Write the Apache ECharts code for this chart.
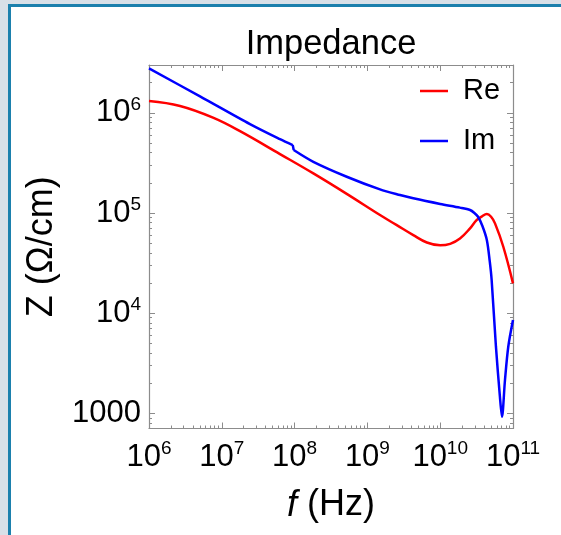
<!DOCTYPE html>
<html>
<head>
<meta charset="utf-8">
<script src="https://cdn.jsdelivr.net/npm/echarts@6/dist/echarts.min.js"></script>
<style>
html,body{margin:0;padding:0;background:#fff;}
#chart{width:561px;height:535px;}
</style>
</head>
<body>
<div id="chart"></div>
<script>
// ---- data ----
var reFreq = [1e6, 2.67e6, 7.57e6, 1.78e7, 6.3e7, 1.81e8, 5.2e8, 1.49e9, 2.5e9, 4.27e9, 6.56e9, 1e10, 1.37e10, 1.87e10, 2.57e10, 3.16e10, 3.72e10, 4.37e10, 5.0e10, 5.66e10, 7.36e10, 1e11];
var reZ    = [1.31e6, 1.17e6, 8.95e5, 6.56e5, 3.87e5, 2.48e5, 1.55e5, 9.53e4, 7.6e4, 6.01e4, 5.07e4, 4.75e4, 4.92e4, 5.56e4, 7.02e4, 8.49e4, 9.2e4, 9.75e4, 9.16e4, 7.87e4, 4.60e4, 1.98e4];
// Im is drawn in three pieces: up to the small step near 1e8, the step itself, and the rest
var imFreqA = [1e6, 5.02e6, 2.44e7, 6.3e7, 9.42e7];
var imZA    = [2.77e6, 1.46e6, 7.71e5, 5.45e5, 4.76e5];
var imFreqB = [9.72e7, 1.81e8, 5.2e8, 1.49e9, 2.81e9, 4.27e9, 1e10, 1.87e10, 2.57e10, 2.95e10, 3.31e10, 3.8e10, 4.37e10, 4.79e10, 5.09e10, 5.83e10, 6.61e10, 7.06e10, 7.76e10, 8.61e10, 1e11];
var imZB    = [4.25e5, 3.24e5, 2.30e5, 1.72e5, 1.51e5, 1.40e5, 1.23e5, 1.13e5, 1.07e5, 1.0e5, 9.16e4, 7.4e4, 5.37e4, 3.3e4, 2.14e4, 4.62e3, 1.47e3, 925, 2.15e3, 4.62e3, 8.53e3];
var seriesNames = ['Re', 'Im'];
var xTicks = [1e6, 1e7, 1e8, 1e9, 1e10, 1e11];
var yTicks = [1e3, 1e4, 1e5, 1e6];
var xRange = [1e6, 1e11];
var yRange = [705, 3.0e6];

function minorTicks(lo, hi) {
  var out = [];
  for (var e = Math.floor(Math.log10(lo)); e <= Math.ceil(Math.log10(hi)); e++) {
    for (var m = 2; m <= 9; m++) {
      var v = m * Math.pow(10, e);
      if (v > lo && v < hi) out.push(v);
    }
  }
  return out;
}
var xMinor = minorTicks(xRange[0], xRange[1]);
var yMinor = minorTicks(yRange[0], yRange[1]);

function zip(a, b) { return a.map(function (v, i) { return [v, b[i]]; }); }
// pieces joined with gaps so each piece is smoothed on its own
var lastA = [imFreqA[imFreqA.length - 1], imZA[imZA.length - 1]];
var firstB = [imFreqB[0], imZB[0]];
var imData = zip(imFreqA, imZA)
  .concat([[lastA[0], '-'], lastA, firstB, [firstB[0], '-']])
  .concat(zip(imFreqB, imZB));

var FONT = "'Liberation Sans', Arial, sans-serif";
var AXC = '#8c8c8c';
var supRich = {
  b: { fontSize: 31, lineHeight: 36, fontFamily: FONT, color: '#000' },
  s: { fontSize: 19, lineHeight: 13, verticalAlign: 'top', fontFamily: FONT, color: '#000' }
};
function powLabel(v) {
  if (v === 1000) return '{b|1000}';
  return '{b|10}{s|' + Math.round(Math.log10(v)) + '}';
}

function mainAxis(type, pos, ticks, range, labels) {
  return {
    type: 'log', logBase: 10, position: pos, min: range[0], max: range[1],
    axisLine: { show: true, onZero: false, lineStyle: { color: AXC, width: 1.2 } },
    axisTick: { show: true, inside: true, length: 6, customValues: ticks, lineStyle: { color: AXC, width: 1 } },
    axisLabel: labels ? { show: true, customValues: ticks, margin: (type === 'x' ? 11 : 8), formatter: powLabel, rich: supRich } : { show: false },
    splitLine: { show: false }, minorTick: { show: false }
  };
}
function minorAxis(pos, ticks, range) {
  return {
    type: 'log', logBase: 10, position: pos, min: range[0], max: range[1],
    axisLine: { show: false },
    axisTick: { show: true, inside: true, length: 3, customValues: ticks, lineStyle: { color: AXC, width: 1 } },
    axisLabel: { show: false }, splitLine: { show: false }
  };
}

var xMain = mainAxis('x', 'bottom', xTicks, xRange, true);
xMain.name = '{i|f} (Hz)';
xMain.nameLocation = 'middle';
xMain.nameGap = 56;
xMain.nameTextStyle = { fontSize: 36, fontFamily: FONT, color: '#000', lineHeight: 42,
  rich: { i: { fontStyle: 'italic', fontSize: 36, fontFamily: FONT, color: '#000', lineHeight: 42 } } };

var yMain = mainAxis('y', 'left', yTicks, yRange, true);
yMain.name = 'Z (Ω/cm)';
yMain.nameLocation = 'middle';
yMain.nameGap = 89;
yMain.nameRotate = 90;
yMain.nameTextStyle = { fontSize: 36, fontFamily: FONT, color: '#000' };

var chart = echarts.init(document.getElementById('chart'), null, { renderer: 'canvas' });
chart.setOption({
  backgroundColor: '#ffffff',
  animation: false,
  title: {
    text: 'Impedance', left: 326, top: 19, textAlign: 'center',
    textStyle: { fontSize: 34.5, fontWeight: 'normal', fontFamily: FONT, color: '#000', lineHeight: 40 }
  },
  graphic: [
    { type: 'rect', shape: { x: 0, y: 0, width: 561, height: 4 }, style: { fill: '#d8e0e8' }, silent: true },
    { type: 'rect', shape: { x: 0, y: 0, width: 8, height: 535 }, style: { fill: '#d8e0e8' }, silent: true },
    { type: 'rect', shape: { x: 8, y: 4, width: 553, height: 3 }, style: { fill: '#1b80ad' }, silent: true },
    { type: 'rect', shape: { x: 8, y: 4, width: 3, height: 531 }, style: { fill: '#1b80ad' }, silent: true }
  ],
  legend: {
    data: seriesNames, orient: 'vertical', left: 415, top: 68, itemGap: 14,
    icon: 'rect', itemWidth: 28, itemHeight: 2.5,
    textStyle: { fontSize: 29, fontFamily: FONT, color: '#000', lineHeight: 36, padding: [0, 0, 0, 10] }
  },
  grid: { left: 149, top: 65, width: 364, height: 363.5, containLabel: false },
  xAxis: [
    xMain,
    mainAxis('x', 'top', xTicks, xRange, false),
    minorAxis('bottom', xMinor, xRange),
    minorAxis('top', xMinor, xRange)
  ],
  yAxis: [
    yMain,
    mainAxis('y', 'right', yTicks, yRange, false),
    minorAxis('left', yMinor, yRange),
    minorAxis('right', yMinor, yRange)
  ],
  series: [
    { name: seriesNames[0], type: 'line', xAxisIndex: 0, yAxisIndex: 0, data: zip(reFreq, reZ),
      showSymbol: false, symbol: 'none', smooth: 0.4, clip: true,
      lineStyle: { color: '#ff0000', width: 2.5 }, itemStyle: { color: '#ff0000' } },
    { name: seriesNames[1], type: 'line', xAxisIndex: 0, yAxisIndex: 0, data: imData,
      showSymbol: false, symbol: 'none', smooth: 0.3, connectNulls: false, clip: true,
      lineStyle: { color: '#0000ff', width: 2.5 }, itemStyle: { color: '#0000ff' } }
  ]
});
</script>
</body>
</html>
